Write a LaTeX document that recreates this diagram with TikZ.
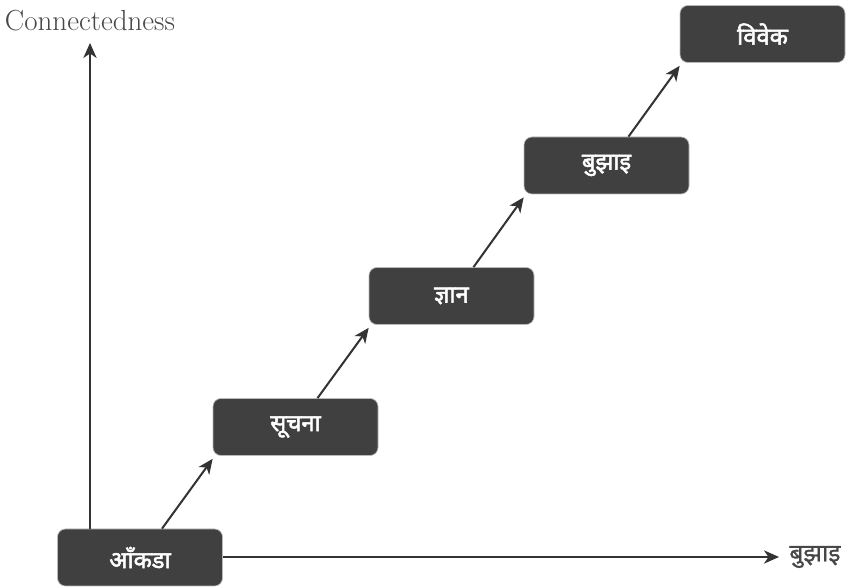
\documentclass[tikz,border=0pt]{standalone}
\usepackage{fontspec}
\usetikzlibrary{arrows.meta}
\newfontfamily\devfont[Script=Devanagari]{Noto Sans}
\newfontfamily\devboldfont[Script=Devanagari,FakeBold=2.2]{Noto Sans}
\newfontfamily\devmidfont[Script=Devanagari,FakeBold=0.8]{Noto Sans}
\definecolor{boxgray}{HTML}{404040}
\definecolor{linegray}{HTML}{333333}
\tikzset{>={Stealth[length=8.5pt,width=7.5pt,inset=2.5pt]}}
\tikzset{
    stage/.style={fill=boxgray, draw=gray!55, line width=0.4pt, rounded corners=4.5pt,
        minimum width=3.3cm, minimum height=1.14cm, text=white,
        font=\devboldfont\fontsize{13.5}{15}\selectfont},
    link/.style={->, draw=linegray, line width=1.15pt}
}

\begin{document}
\begin{tikzpicture}
    \useasboundingbox (0,0) rectangle (17,11.76);
    % stages
    \node[stage] (aankda) at (2.8,0.61) {आँकडा};
    \node[stage] (suchana) at (5.91,3.22) {सूचना};
    \node[stage] (gyaan) at (9.03,5.84) {ज्ञान};
    \node[stage] (bujhai) at (12.13,8.45) {बुझाइ};
    \node[stage] (vivek) at (15.25,11.08) {विवेक};
    % axes
    \coordinate (ytip) at (1.8,10.9);
    \coordinate (xtip) at (15.58,0.62);
    \draw[link] (aankda.north -| ytip) -- (ytip);
    \draw[link] (aankda.east |- xtip) -- (xtip);
    \node[text=linegray!90, font=\fontsize{16.5}{19}\selectfont] (ylabel) at (1.8,11.34) {Connectedness};
    \node[anchor=west, inner sep=0pt, text=linegray!90, font=\devmidfont\fontsize{14}{16}\selectfont] (xlabel) at (15.78,0.62) {बुझाइ};
    % steps
    \draw[link] ([xshift=0.44cm]aankda.north) -- ([yshift=-0.06cm]suchana.south west);
    \draw[link] ([xshift=0.44cm]suchana.north) -- ([yshift=-0.06cm]gyaan.south west);
    \draw[link] ([xshift=0.44cm]gyaan.north) -- ([yshift=-0.06cm]bujhai.south west);
    \draw[link] ([xshift=0.44cm]bujhai.north) -- ([yshift=-0.06cm]vivek.south west);
\end{tikzpicture}
\end{document}
